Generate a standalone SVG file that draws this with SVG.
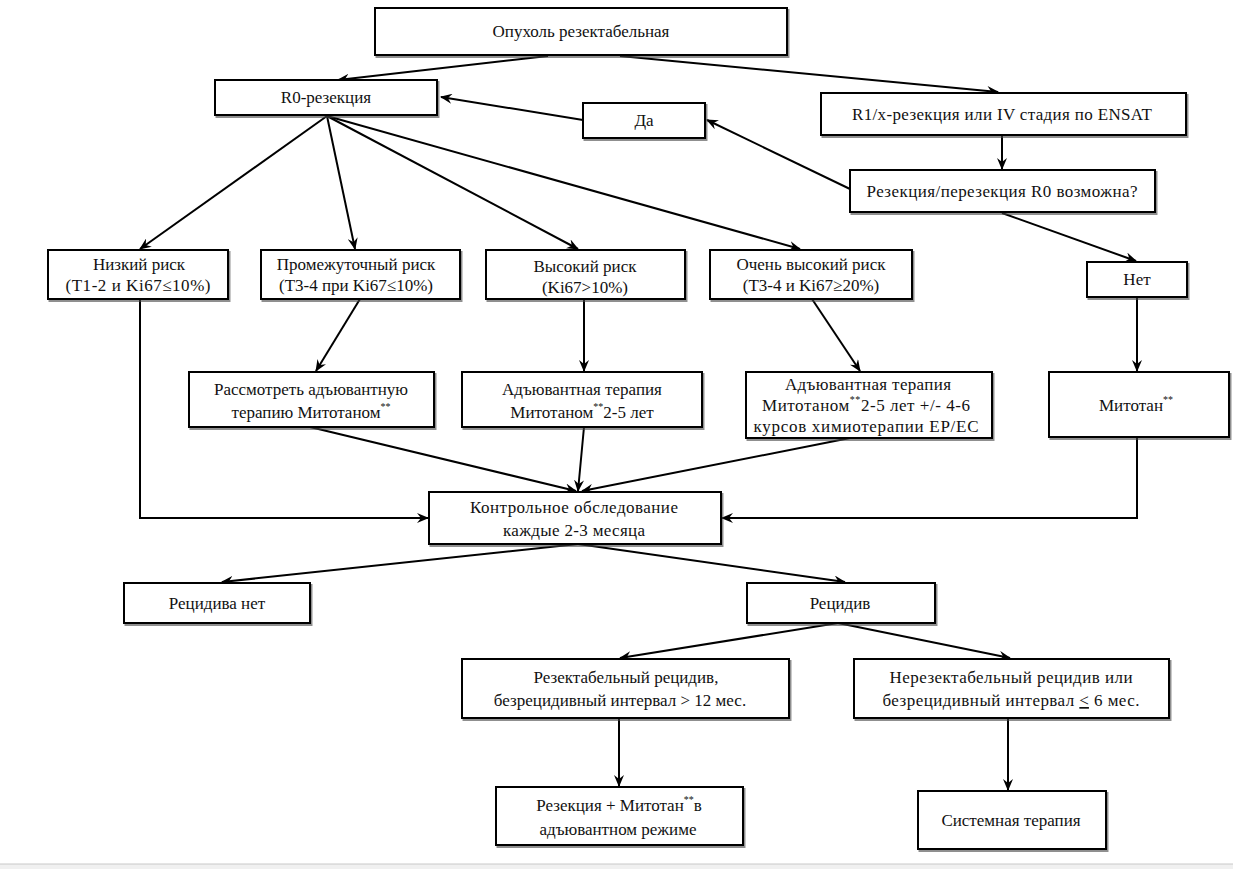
<svg xmlns="http://www.w3.org/2000/svg" width="1233" height="869" viewBox="0 0 1233 869">
<defs>
<marker id="ah" viewBox="0 0 12 10" refX="11" refY="5" markerWidth="12" markerHeight="10" markerUnits="userSpaceOnUse" orient="auto">
<path d="M0,0 L12,5 L0,10 L4,5 z" fill="#000"/>
</marker>
<filter id="sh" x="-5%" y="-10%" width="115%" height="130%">
<feDropShadow dx="1.5" dy="2" stdDeviation="0.6" flood-color="#444" flood-opacity="0.6"/>
</filter>
</defs>
<style>
.b{fill:#fff;stroke:#000;stroke-width:2;filter:url(#sh)}
.t{font-size:17px;fill:#111;text-anchor:middle}
.c path{fill:none;stroke:#000;stroke-width:2;marker-end:url(#ah)}
.s{font-size:10px}
</style>
<rect x="0" y="0" width="1233" height="869" fill="#fff"/>
<rect x="0" y="864" width="1233" height="5" fill="#f0f0f0"/>
<line x1="0" y1="864" x2="1233" y2="864" stroke="#c8c8c8" stroke-width="1"/>

<g class="c">
<path d="M548,56 L338,80"/>
<path d="M620,56 L998,92"/>
<path d="M583,120 L441,97"/>
<path d="M850,189 L707,120"/>
<path d="M1002,135 L1002,169"/>
<path d="M1002,213 L1136,261"/>
<path d="M327,116 L140,249"/>
<path d="M327,116 L355,249"/>
<path d="M327,116 L578,249"/>
<path d="M327,116 L800,249"/>
<path d="M360,299 L316,371"/>
<path d="M584,299 L584,371"/>
<path d="M812,299 L860,371"/>
<path d="M1137,297 L1137,371"/>
<path d="M140,299 L140,518 L428,518"/>
<path d="M1137,437 L1137,518 L722,518"/>
<path d="M310,427 L576,491"/>
<path d="M584,427 L578,491"/>
<path d="M850,438 L582,491"/>
<path d="M578,544 L222,582"/>
<path d="M578,544 L845,582"/>
<path d="M838,623 L620,658"/>
<path d="M838,623 L1010,658"/>
<path d="M619,718 L619,786"/>
<path d="M1008,718 L1008,790"/>
</g>

<g font-family="'Liberation Serif', 'DejaVu Serif', serif">
<g id="n1"><rect class="b" x="375" y="8" width="412" height="47"/><text class="t" x="581" y="37">Опухоль резектабельная</text></g>
<g id="n2"><rect class="b" x="215" y="80" width="222" height="35"/><text class="t" x="326" y="103">R0-резекция</text></g>
<g id="n3"><rect class="b" x="583" y="103" width="122" height="35"/><text class="t" x="644" y="126">Да</text></g>
<g id="n4"><rect class="b" x="821" y="93" width="365" height="42"/><text class="t" x="1002" y="120" textLength="300" lengthAdjust="spacing">R1/x-резекция или IV  стадия по ENSAT</text></g>
<g id="n5"><rect class="b" x="850" y="170" width="305" height="42"/><text class="t" x="1002" y="197" textLength="271" lengthAdjust="spacing">Резекция/перезекция  R0 возможна?</text></g>
<g id="n6"><rect class="b" x="48" y="250" width="180" height="49"/><text class="t" x="139" y="270">Низкий риск</text><text class="t" x="138" y="291" textLength="145" lengthAdjust="spacing">(T1-2 и Ki67≤10%)</text></g>
<g id="n7"><rect class="b" x="261" y="250" width="199" height="49"/><text class="t" x="356" y="270">Промежуточный риск</text><text class="t" x="356" y="291">(T3-4 при Ki67≤10%)</text></g>
<g id="n8"><rect class="b" x="486" y="250" width="199" height="49"/><text class="t" x="585" y="272">Высокий риск</text><text class="t" x="585" y="293">(Ki67&gt;10%)</text></g>
<g id="n9"><rect class="b" x="710" y="250" width="202" height="49"/><text class="t" x="811" y="270">Очень высокий риск</text><text class="t" x="811" y="291">(T3-4 и Ki67≥20%)</text></g>
<g id="n10"><rect class="b" x="1087" y="262" width="100" height="35"/><text class="t" x="1137" y="285">Нет</text></g>
<g id="n11"><rect class="b" x="189" y="372" width="245" height="55"/><text class="t" x="311" y="395">Рассмотреть адъювантную</text><text class="t" x="311" y="418">терапию Митотаном<tspan class="s" dy="-8">**</tspan></text></g>
<g id="n12"><rect class="b" x="462" y="372" width="240" height="55"/><text class="t" x="582" y="395">Адъювантная терапия</text><text class="t" x="582" y="418">Митотаном<tspan class="s" dy="-8">**</tspan><tspan dy="8">2-5 лет</tspan></text></g>
<g id="n13"><rect class="b" x="746" y="372" width="246" height="66"/><text class="t" x="868" y="390" textLength="166" lengthAdjust="spacing">Адъювантная  терапия</text><text class="t" x="866" y="411" textLength="208" lengthAdjust="spacing">Митотаном<tspan class="s" dy="-8">**</tspan><tspan dy="8">2-5 лет +/- 4-6</tspan></text><text class="t" x="866" y="432" textLength="225" lengthAdjust="spacing">курсов химиотерапии  ЕР/ЕС</text></g>
<g id="n14"><rect class="b" x="1049" y="372" width="180" height="65"/><text class="t" x="1136" y="411">Митотан<tspan class="s" dy="-8">**</tspan></text></g>
<g id="n15"><rect class="b" x="429" y="492" width="292" height="52"/><text class="t" x="574" y="513" textLength="208" lengthAdjust="spacing">Контрольное обследование</text><text class="t" x="574" y="536" textLength="142" lengthAdjust="spacing">каждые 2-3 месяца</text></g>
<g id="n16"><rect class="b" x="124" y="583" width="186" height="40"/><text class="t" x="217" y="609">Рецидива нет</text></g>
<g id="n17"><rect class="b" x="747" y="583" width="188" height="40"/><text class="t" x="840" y="609">Рецидив</text></g>
<g id="n18"><rect class="b" x="462" y="659" width="327" height="59"/><text class="t" x="626" y="683">Резектабельный рецидив,</text><text class="t" x="620" y="706">безрецидивный интервал &gt; 12 мес.</text></g>
<g id="n19"><rect class="b" x="854" y="659" width="315" height="59"/><text class="t" x="1011" y="683" textLength="243" lengthAdjust="spacing">Нерезектабельный рецидив или</text><text class="t" x="1011" y="706" textLength="257" lengthAdjust="spacing">безрецидивный интервал <tspan text-decoration="underline">&lt;</tspan>  6 мес.</text></g>
<g id="n20"><rect class="b" x="496" y="787" width="247" height="58"/><text class="t" x="619" y="811">Резекция + Митотан<tspan class="s" dy="-8">**</tspan><tspan dy="8">в</tspan></text><text class="t" x="618" y="835">адъювантном режиме</text></g>
<g id="n21"><rect class="b" x="918" y="791" width="188" height="58"/><text class="t" x="1011" y="826">Системная терапия</text></g>
</g>
</svg>
